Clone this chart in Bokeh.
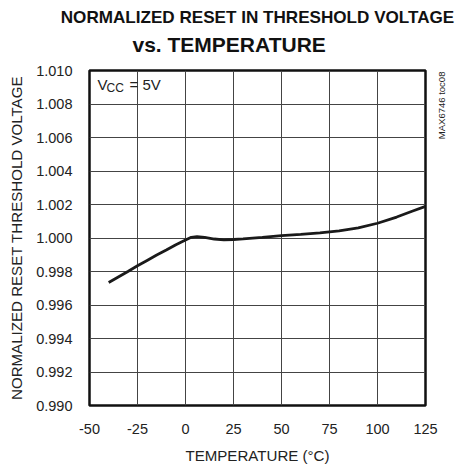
from bokeh.plotting import figure
from bokeh.models import Label, FixedTicker, PrintfTickFormatter, Title, LinearAxis
from bokeh.embed import file_html
from bokeh.resources import INLINE
import math

# ---- data ----
temperature = [-40, -35, -30, -25, -20, -15, -10, -5, 0, 3, 6, 10, 15, 20, 25,
               30, 40, 50, 60, 70, 80, 90, 100, 110, 118, 125]
normalized_vth = [0.99734, 0.99767, 0.99800, 0.99834, 0.99866, 0.99898, 0.99928,
                  0.99960, 0.99988, 1.00004, 1.00008, 1.00004, 0.99994, 0.99989,
                  0.99991, 0.99995, 1.00004, 1.00014, 1.00022, 1.00031, 1.00043,
                  1.00060, 1.00088, 1.00125, 1.00160, 1.00189]
x_ticks = [-50, -25, 0, 25, 50, 75, 100, 125]
y_ticks = [0.990, 0.992, 0.994, 0.996, 0.998, 1.000, 1.002, 1.004, 1.006, 1.008, 1.010]

title_1 = "NORMALIZED RESET IN THRESHOLD VOLTAGE"
title_2 = "vs. TEMPERATURE"
x_title = "TEMPERATURE (°C)"
y_title = "NORMALIZED RESET THRESHOLD VOLTAGE"
tag = "MAX6746 toc08"

FONT = "Liberation Sans"
TXT = "#222222"

p = figure(width=456, height=471, x_range=(-50, 125), y_range=(0.990, 1.010),
           min_border_left=89, min_border_right=31, min_border_top=70,
           min_border_bottom=66, output_backend="svg", toolbar_location=None)
p.background_fill_color = "white"
p.border_fill_color = "white"
p.outline_line_color = "#111111"
p.outline_line_width = 2.5

def style_axis(ax):
    ax.axis_line_color = None
    ax.major_tick_line_color = None
    ax.minor_tick_line_color = None
    ax.major_tick_in = 0
    ax.major_tick_out = 0
    ax.major_label_text_font = FONT
    ax.major_label_text_font_size = "14.5px"
    ax.major_label_text_color = TXT
    ax.axis_label_text_font = FONT
    ax.axis_label_text_font_size = "15.1px"
    ax.axis_label_text_font_style = "normal"
    ax.axis_label_text_color = TXT

style_axis(p.xaxis[0])
style_axis(p.yaxis[0])

p.xaxis.ticker = FixedTicker(ticks=x_ticks)
p.yaxis.ticker = FixedTicker(ticks=y_ticks)
p.xaxis.formatter = PrintfTickFormatter(format="%d")
p.yaxis.formatter = PrintfTickFormatter(format="%.3f")
p.xaxis.major_label_standoff = 18
p.yaxis.major_label_standoff = 17
p.xaxis.axis_label = x_title
p.xaxis.axis_label_standoff = 10
p.yaxis.axis_label = y_title
p.yaxis.axis_label_standoff = 8

# right-side tag drawn as a single overridden tick label (text starts at this level)
tag_pos = 1.0059
tag_axis = LinearAxis(ticker=FixedTicker(ticks=[tag_pos]),
                      major_label_overrides={tag_pos: tag})
style_axis(tag_axis)
tag_axis.major_label_text_font_size = "9.5px"
tag_axis.major_label_orientation = math.pi / 2
tag_axis.major_label_standoff = 16
p.add_layout(tag_axis, "right")

p.xgrid.ticker = FixedTicker(ticks=x_ticks)
p.ygrid.ticker = FixedTicker(ticks=y_ticks)
p.grid.grid_line_color = "#444444"
p.grid.grid_line_width = 1

p.line(temperature, normalized_vth, line_color="#1a1a1a", line_width=2.8)

# titles (first added sits closest to the plot)
p.add_layout(Title(text=title_2, align="left", offset=43, standoff=24.6,
                   vertical_align="top",
                   text_font=FONT, text_font_size="21px", text_font_style="bold",
                   text_color="#111111"), "above")
p.add_layout(Title(text=title_1, align="center", standoff=-13.8,
                   vertical_align="bottom",
                   text_font=FONT, text_font_size="17.1px", text_font_style="bold",
                   text_color="#111111"), "above")

# V_CC = 5V inside the frame (screen units from frame bottom-left)
def lab(text, x, y, size):
    p.add_layout(Label(text=text, x=x, y=y, x_units="screen", y_units="screen",
                       text_font=FONT, text_font_size=size, text_color=TXT,
                       text_align="left", text_baseline="alphabetic"))

lab("V", 8, 321, "15px")
lab("CC", 17, 317.5, "12px")
lab("= 5V", 40, 321, "15px")

open("out.html", "w").write(file_html(p, INLINE))
